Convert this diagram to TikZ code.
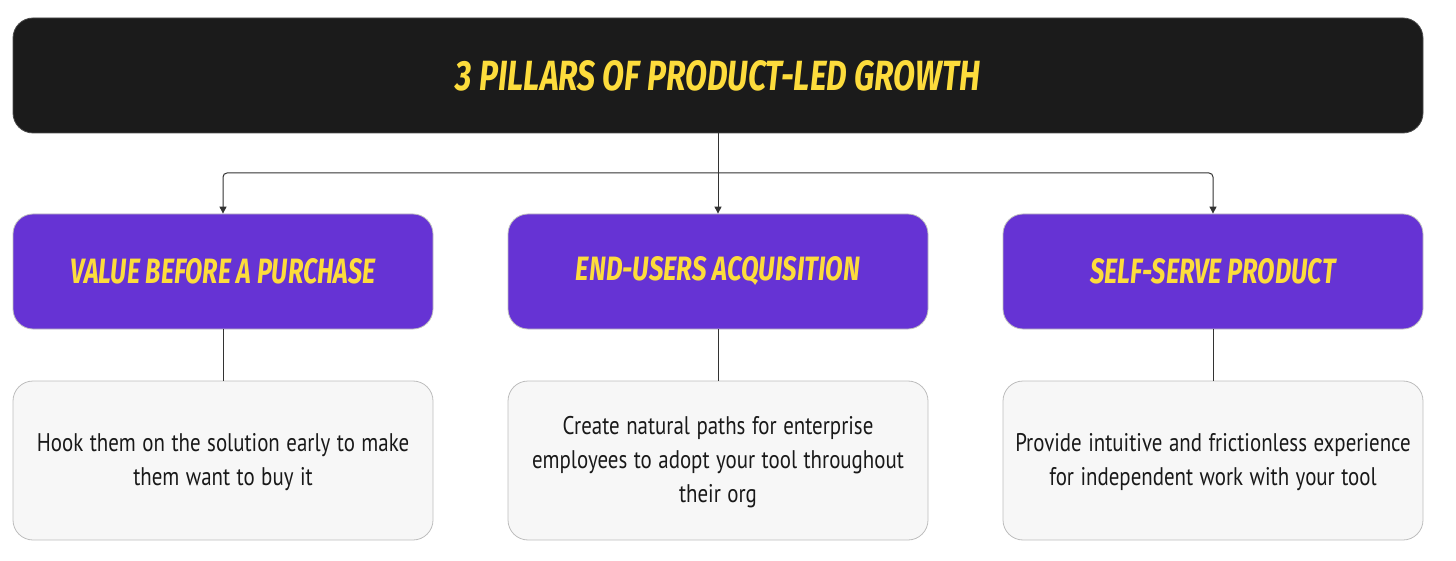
\documentclass[tikz,border=0pt]{standalone}
\usepackage{fontspec}
\usepackage{graphicx}
\setmainfont{PT Sans}[FakeStretch=0.82]
\newfontfamily\headfont{Fira Sans}[BoldItalicFont={Fira Sans Bold Italic}]
\usetikzlibrary{arrows.meta}
\definecolor{titlebg}{HTML}{1B1B1B}
\definecolor{yel}{HTML}{FDDC3C}
\definecolor{purp}{HTML}{6633D4}
\definecolor{descbg}{HTML}{F7F7F7}
\definecolor{descbd}{HTML}{BDBDBD}
\definecolor{conn}{HTML}{333333}
\newcommand{\descfont}{\fontsize{25.5}{34}\selectfont\spaceskip=6.5pt plus 1pt minus 1pt\relax}
\tikzset{
  titlebox/.style={rectangle, rounded corners=20pt, fill=titlebg, draw=black!70, line width=0.8pt,
    minimum width=1410pt, minimum height=115pt, inner sep=0pt},
  pillar/.style={rectangle, rounded corners=20pt, fill=purp, draw=black!25, line width=0.8pt,
    minimum width=420pt, minimum height=115pt, inner sep=0pt},
  descbox/.style={rectangle, rounded corners=20pt, fill=descbg, draw=descbd, line width=0.8pt,
    minimum width=420pt, minimum height=159pt, inner sep=0pt, align=center,
    font=\descfont, text=black!90},
  link/.style={draw=conn, line width=1pt},
  arr/.style={link, -{Triangle[width=7pt,length=7pt]}},
}
\newcommand{\headtxt}[3]{\textcolor{yel}{\resizebox{#1pt}{#2pt}{\headfont\bfseries\itshape #3}}}
\newcommand{\desctxt}[1]{\parbox{412pt}{\centering\descfont\vspace*{4pt}#1}}
\begin{document}
\begin{tikzpicture}[x=1pt,y=-1pt]
\useasboundingbox (0,0) rectangle (1456,561);
\node[titlebox] (title) at (718,75.5) {\headtxt{524}{30}{3 PILLARS OF PRODUCT-LED GROWTH}};
\node[pillar] (p1) at (223,271.5) {\headtxt{305}{25}{VALUE BEFORE A PURCHASE}};
\node[pillar] (p2) at (718,271.5) {\headtxt{284}{24}{END-USERS ACQUISITION}};
\node[pillar] (p3) at (1213,271.5) {\headtxt{245}{25}{SELF-SERVE PRODUCT}};
\node[descbox] (d1) at (223,460.5) {\desctxt{Hook them on the solution early to make\\them want to buy it}};
\node[descbox] (d2) at (718,460.5) {\desctxt{Create natural paths for enterprise\\employees to adopt your tool throughout\\their org}};
\node[descbox] (d3) at (1213,460.5) {\desctxt{Provide intuitive and frictionless experience\\for independent work with your tool}};
\coordinate (j) at (718,173);
\draw[link] (title.south) -- (j);
\draw[arr] (j) -- (p2.north);
\draw[arr, rounded corners=4pt] (j) -| (p1.north);
\draw[arr, rounded corners=4pt] (j) -| (p3.north);
\draw[link] (p1.south) -- (d1.north);
\draw[link] (p2.south) -- (d2.north);
\draw[link] (p3.south) -- (d3.north);
\end{tikzpicture}
\end{document}
